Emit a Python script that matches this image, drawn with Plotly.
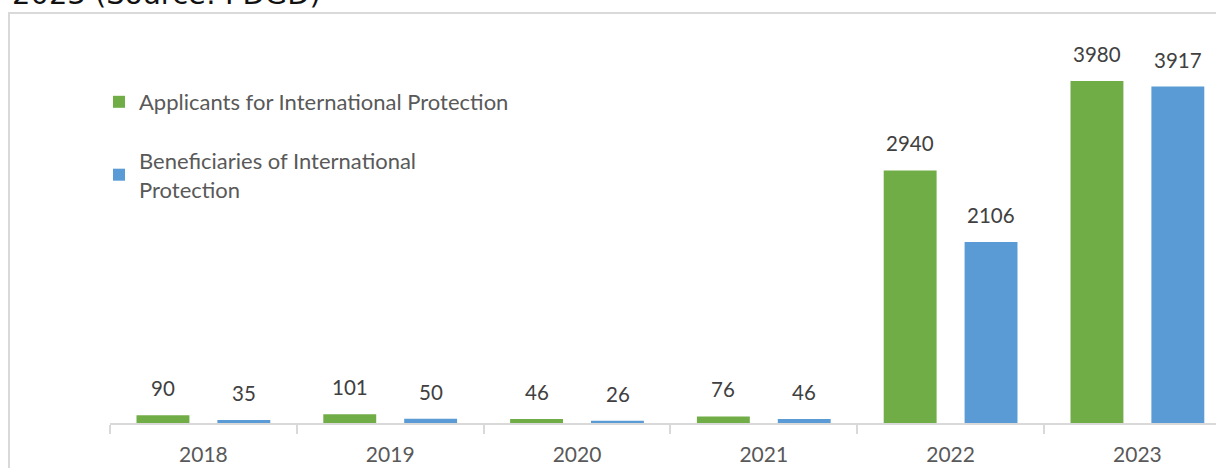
import plotly.graph_objects as go

years = ["2018", "2019", "2020", "2021", "2022", "2023"]
applicants = [90, 101, 46, 76, 2940, 3980]
beneficiaries = [35, 50, 26, 46, 2106, 3917]
series_names = ["Applicants for International Protection",
                "Beneficiaries of International<br>Protection"]
colors = ["#70AD47", "#5B9BD5"]

W, H = 1216, 468
ML, MR, MT, MB = 110, 0, 30, 45
plot_w = W - ML - MR
plot_h = H - MT - MB

fig = go.Figure()
for name, vals, col, grp in zip(series_names, [applicants, beneficiaries], colors, ["a", "b"]):
    fig.add_trace(go.Bar(x=years, y=vals, name=name, marker_color=col,
                         marker_line_width=0, legendgroup=grp))

annotations = []
cat_px = 186.8
for vals, shift in [(applicants, -40.5), (beneficiaries, 40.5)]:
    for i, v in enumerate(vals):
        annotations.append(dict(x=i, y=v, xref="x", yref="y", text=str(v),
                                showarrow=False, xshift=shift, yshift=13,
                                yanchor="bottom",
                                font=dict(family="Lato", size=20.5, color="#404040")))

def px_to_paper_y(p):
    return (H - MB - p) / plot_h

def px_to_paper_x(p):
    return (p - ML) / plot_w

annotations.append(dict(x=px_to_paper_x(10), y=px_to_paper_y(13), xref="paper", yref="paper",
                        text="2023 (Source: PDGD)", showarrow=False,
                        xanchor="left", yanchor="bottom",
                        font=dict(family="DejaVu Sans", size=29, color="#111111")))

fig.update_layout(
    width=W, height=H,
    margin=dict(l=ML, r=MR, t=MT, b=MB),
    paper_bgcolor="white", plot_bgcolor="white",
    barmode="group", bargap=0.134, bargroupgap=0.346,
    showlegend=True,
    legend=dict(x=px_to_paper_x(99), y=px_to_paper_y(81), xanchor="left", yanchor="top",
                traceorder="grouped", tracegroupgap=27,
                font=dict(family="Lato", size=22, color="#595959"),
                bgcolor="rgba(0,0,0,0)"),
    xaxis=dict(type="category", range=[-0.5, -0.5 + plot_w / cat_px],
               showline=True, linecolor="#d9d9d9", linewidth=1.5,
               ticks="outside", tickson="boundaries", ticklen=9, tickcolor="#d9d9d9",
               tickwidth=1.5, showgrid=False, ticklabelstandoff=12,
               tickfont=dict(family="Lato", size=21, color="#595959")),
    yaxis=dict(range=[0, 4575], visible=False, showgrid=False, zeroline=False),
    annotations=annotations,
    shapes=[dict(type="rect", xref="paper", yref="paper",
                 x0=px_to_paper_x(9), x1=px_to_paper_x(1230),
                 y0=px_to_paper_y(480), y1=px_to_paper_y(13),
                 line=dict(color="#d9d9d9", width=2), fillcolor="rgba(0,0,0,0)",
                 layer="below")],
)

fig.write_html("out.html")
